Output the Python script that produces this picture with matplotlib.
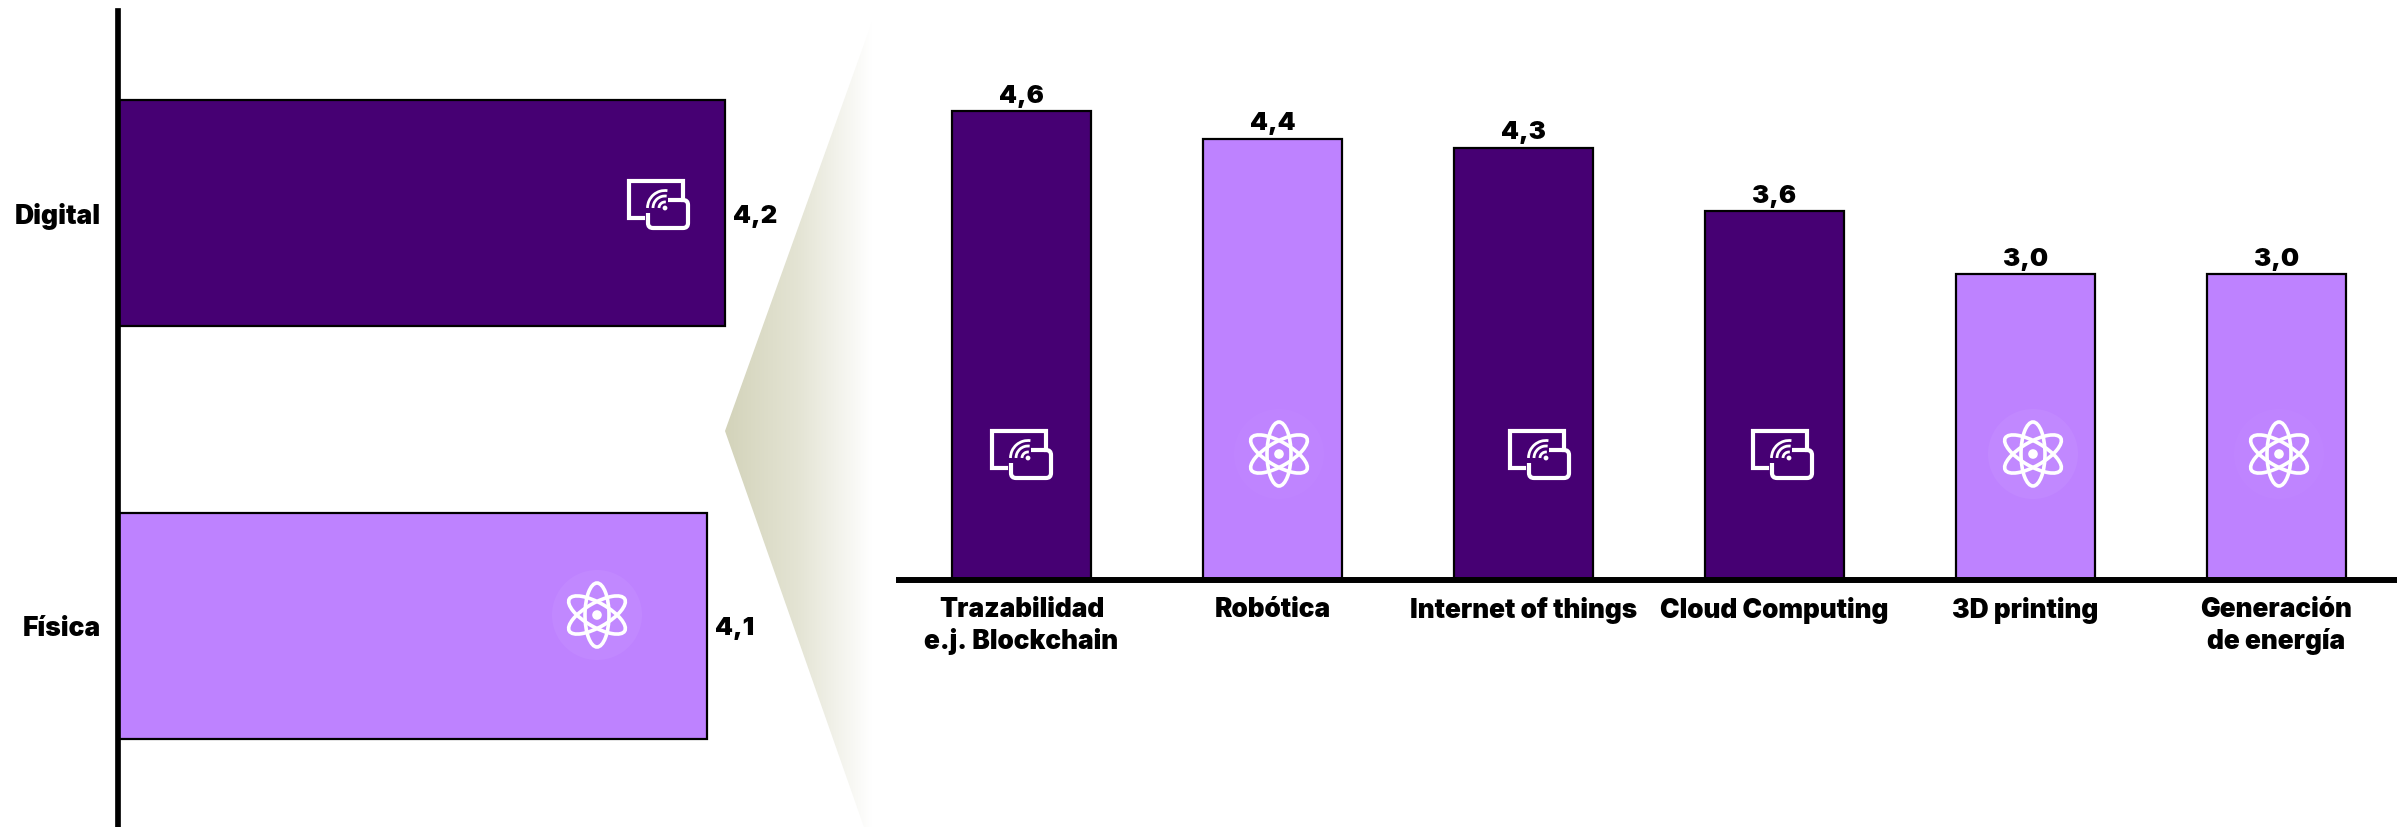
#!/usr/bin/env python3
# -*- coding: utf-8 -*-

import numpy as np
import matplotlib
matplotlib.use("Agg")
import matplotlib.pyplot as plt
from matplotlib.colors import LinearSegmentedColormap
from matplotlib.patches import Arc, Circle, Ellipse, PathPatch, Polygon
from matplotlib.path import Path

# Data
area_labels = ["Digital", "Física"]
area_values = [4.2, 4.076]
area_text = ["4,2", "4,1"]
area_kinds = ["digital", "fisica"]

tech_labels = ["Trazabilidad\ne.j. Blockchain", "Robótica", "Internet of things",
               "Cloud Computing", "3D printing", "Generación\nde energía"]
tech_values = [4.6, 4.33, 4.24, 3.62, 3.0, 3.0]
tech_text = ["4,6", "4,4", "4,3", "3,6", "3,0", "3,0"]
tech_kinds = ["digital", "fisica", "digital", "digital", "fisica", "fisica"]

# Icon centres, in reference pixels
area_icons = [(658, 204), (597, 615)]
tech_icons = [(1021, 454), (1279, 454), (1539, 454), (1782, 454), (2033, 454), (2279, 454)]
# how visible the pale disc behind each atom is
area_halos = [0, 0.05]
tech_halos = [0, 0.02, 0, 0, 0.05, 0.02]

DARK = "#460073"
LIGHT = "#BE82FF"
colors = {"digital": DARK, "fisica": LIGHT}

W, H = 2397, 827
plt.rcParams["font.family"] = ["Inter", "DejaVu Sans"]


def px_axes(fig, left, top, right, bottom):
    """Axes placed by reference pixel edges."""
    return fig.add_axes([left / W, 1 - bottom / H, (right - left) / W, (bottom - top) / H])


def draw_digital(ax, cx, cy):
    """Screen + tablet icon with wifi arcs."""
    lw = 3.0
    ax.plot([cx - 15, cx - 29, cx - 29, cx + 25, cx + 25], [cy + 14, cy + 14, cy - 23, cy - 23, cy - 4],
            color="white", lw=lw, solid_joinstyle="miter", zorder=5)
    # tablet outline, open at the top left where the arcs are
    verts = [(cx + 10, cy - 4), (cx + 25, cy - 4), (cx + 30, cy - 4), (cx + 30, cy + 1),
             (cx + 30, cy + 19), (cx + 30, cy + 24), (cx + 25, cy + 24),
             (cx - 5, cy + 24), (cx - 10, cy + 24), (cx - 10, cy + 19), (cx - 10, cy + 9)]
    codes = [Path.MOVETO, Path.LINETO, Path.CURVE3, Path.CURVE3,
             Path.LINETO, Path.CURVE3, Path.CURVE3,
             Path.LINETO, Path.CURVE3, Path.CURVE3, Path.LINETO]
    ax.add_patch(PathPatch(Path(verts, codes), fc="none", ec="white", lw=lw, zorder=5))
    wx, wy = cx + 7, cy + 4
    ax.add_patch(Circle((wx, wy), 2.4, fc="white", ec="none", zorder=7))
    for r in (6, 12, 17.5):
        ax.add_patch(Arc((wx, wy), 2 * r, 2 * r, theta1=180, theta2=278, ec="white", lw=2.0, zorder=7))


def draw_atom(ax, cx, cy, halo):
    """Atom icon: three orbits and a nucleus."""
    if halo:
        ax.add_patch(Circle((cx, cy), 45, fc="white", alpha=halo, ec="none", zorder=4))
    for angle in (0, 60, -60):
        ax.add_patch(Ellipse((cx, cy), 24, 64, angle=angle, fc="none", ec="white", lw=2.6, zorder=5))
    ax.add_patch(Circle((cx, cy), 4.8, fc="white", ec="none", zorder=5))


fig = plt.figure(figsize=(W / 100, H / 100), dpi=100, facecolor="white")

# Left chart
ax_left = px_axes(fig, 118, 11, 860, 827)
ax_left.barh(area_labels, area_values, height=0.548,
             color=[colors[k] for k in area_kinds], edgecolor="black", linewidth=1.6)
ax_left.set_xlim(0, 742 / 144.5)
ax_left.set_ylim(1.488, -0.4905)
ax_left.patch.set_alpha(0)
for s in ("top", "right", "bottom"):
    ax_left.spines[s].set_visible(False)
ax_left.spines["left"].set_linewidth(4.1)
ax_left.xaxis.set_visible(False)
ax_left.tick_params(axis="y", length=0, pad=12, labelsize=19)
for lab in ax_left.get_yticklabels():
    lab.set_fontweight("black")
for i, v in enumerate(area_values):
    ax_left.annotate(area_text[i], (v, i), xytext=(6, -2), textcoords="offset points",
                     va="center", ha="left", fontsize=18.5, fontweight="black")

# Right chart
ax_right = px_axes(fig, 899, 0, W, 580)
x = np.arange(len(tech_labels))
ax_right.bar(x, tech_values, width=0.555,
             color=[colors[k] for k in tech_kinds], edgecolor="black", linewidth=1.6)
ax_right.set_xlim(-0.488, 5.48)
ax_right.set_ylim(0, 580 / 101.9)
ax_right.patch.set_alpha(0)
for s in ("top", "right", "left"):
    ax_right.spines[s].set_visible(False)
ax_right.spines["bottom"].set_linewidth(4.3)
ax_right.yaxis.set_visible(False)
ax_right.set_xticks(x)
ax_right.set_xticklabels(tech_labels, fontsize=18.9, fontweight="black", linespacing=1.25, va="top")
ax_right.tick_params(axis="x", length=0, pad=12)
for i, v in enumerate(tech_values):
    ax_right.annotate(tech_text[i], (i, v), xytext=(0, 2.5), textcoords="offset points",
                      va="bottom", ha="center", fontsize=18.5, fontweight="black")

# Overlay in reference pixels: gradient fan and icons
over = fig.add_axes([0, 0, 1, 1], zorder=5)
fan_cmap = LinearSegmentedColormap.from_list("fan", ["#D3D3BA", "#E4E4D4", "#FFFFFF"])
fan_img = over.imshow(np.linspace(0, 1, 256).reshape(1, -1), cmap=fan_cmap,
                      extent=(725, 872, 850, 10), aspect="auto", zorder=1)
fan_img.set_clip_path(Polygon([(725, 431), (872, 22), (872, 850)], closed=True, transform=over.transData))
over.set_xlim(0, W)
over.set_ylim(H, 0)
over.axis("off")

for (cx, cy), kind, halo in zip(area_icons + tech_icons, area_kinds + tech_kinds, area_halos + tech_halos):
    if kind == "digital":
        draw_digital(over, cx, cy)
    else:
        draw_atom(over, cx, cy, halo)

fig.savefig("out.png", dpi=100)
